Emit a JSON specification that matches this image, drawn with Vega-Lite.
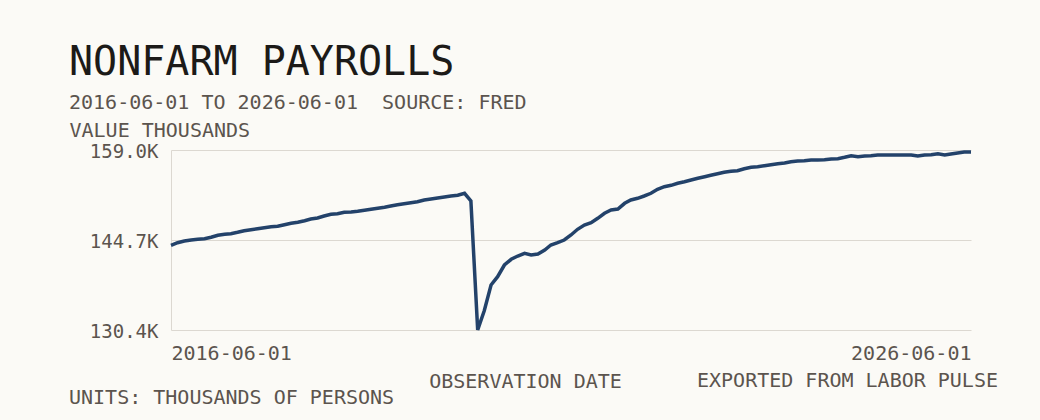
{
  "$schema": "https://vega.github.io/schema/vega-lite/v6.json",
  "width": 800,
  "height": 180,
  "autosize": {"type": "none"},
  "padding": {"left": 171, "top": 150, "right": 69, "bottom": 90},
  "background": "#fbfaf6",
  "title": {
    "text": "NONFARM PAYROLLS",
    "subtitle": "2016-06-01 TO 2026-06-01 \u00a0SOURCE: FRED",
    "anchor": "start",
    "frame": "group",
    "dx": -102,
    "offset": 7,
    "font": "DejaVu Sans Mono",
    "fontSize": 40,
    "fontWeight": "normal",
    "color": "#1c1a18",
    "subtitleFont": "DejaVu Sans Mono",
    "subtitleFontSize": 20,
    "subtitleColor": "#5b544e",
    "subtitlePadding": 10
  },
  "config": {
    "view": {"stroke": null},
    "font": "DejaVu Sans Mono"
  },
  "layer": [
    {
      "data": {"values": [
        {"date": "2016-06-01", "value": 143858},
        {"date": "2016-07-01", "value": 144271},
        {"date": "2016-08-01", "value": 144541},
        {"date": "2016-09-01", "value": 144700},
        {"date": "2016-10-01", "value": 144811},
        {"date": "2016-11-01", "value": 144907},
        {"date": "2016-12-01", "value": 145129},
        {"date": "2017-01-01", "value": 145447},
        {"date": "2017-02-01", "value": 145606},
        {"date": "2017-03-01", "value": 145701},
        {"date": "2017-04-01", "value": 145924},
        {"date": "2017-05-01", "value": 146178},
        {"date": "2017-06-01", "value": 146337},
        {"date": "2017-07-01", "value": 146496},
        {"date": "2017-08-01", "value": 146655},
        {"date": "2017-09-01", "value": 146813},
        {"date": "2017-10-01", "value": 146877},
        {"date": "2017-11-01", "value": 147131},
        {"date": "2017-12-01", "value": 147354},
        {"date": "2018-01-01", "value": 147513},
        {"date": "2018-02-01", "value": 147767},
        {"date": "2018-03-01", "value": 148037},
        {"date": "2018-04-01", "value": 148196},
        {"date": "2018-05-01", "value": 148513},
        {"date": "2018-06-01", "value": 148784},
        {"date": "2018-07-01", "value": 148879},
        {"date": "2018-08-01", "value": 149101},
        {"date": "2018-09-01", "value": 149149},
        {"date": "2018-10-01", "value": 149260},
        {"date": "2018-11-01", "value": 149419},
        {"date": "2018-12-01", "value": 149578},
        {"date": "2019-01-01", "value": 149737},
        {"date": "2019-02-01", "value": 149896},
        {"date": "2019-03-01", "value": 150102},
        {"date": "2019-04-01", "value": 150309},
        {"date": "2019-05-01", "value": 150468},
        {"date": "2019-06-01", "value": 150627},
        {"date": "2019-07-01", "value": 150786},
        {"date": "2019-08-01", "value": 151056},
        {"date": "2019-09-01", "value": 151215},
        {"date": "2019-10-01", "value": 151373},
        {"date": "2019-11-01", "value": 151532},
        {"date": "2019-12-01", "value": 151691},
        {"date": "2020-01-01", "value": 151802},
        {"date": "2020-02-01", "value": 152120},
        {"date": "2020-03-01", "value": 150897},
        {"date": "2020-04-01", "value": 130424},
        {"date": "2020-05-01", "value": 133467},
        {"date": "2020-06-01", "value": 137550},
        {"date": "2020-07-01", "value": 138869},
        {"date": "2020-08-01", "value": 140728},
        {"date": "2020-09-01", "value": 141634},
        {"date": "2020-10-01", "value": 142158},
        {"date": "2020-11-01", "value": 142587},
        {"date": "2020-12-01", "value": 142317},
        {"date": "2021-01-01", "value": 142476},
        {"date": "2021-02-01", "value": 143111},
        {"date": "2021-03-01", "value": 143906},
        {"date": "2021-04-01", "value": 144271},
        {"date": "2021-05-01", "value": 144700},
        {"date": "2021-06-01", "value": 145495},
        {"date": "2021-07-01", "value": 146400},
        {"date": "2021-08-01", "value": 147083},
        {"date": "2021-09-01", "value": 147449},
        {"date": "2021-10-01", "value": 148148},
        {"date": "2021-11-01", "value": 148943},
        {"date": "2021-12-01", "value": 149467},
        {"date": "2022-01-01", "value": 149626},
        {"date": "2022-02-01", "value": 150531},
        {"date": "2022-03-01", "value": 151056},
        {"date": "2022-04-01", "value": 151326},
        {"date": "2022-05-01", "value": 151691},
        {"date": "2022-06-01", "value": 152120},
        {"date": "2022-07-01", "value": 152756},
        {"date": "2022-08-01", "value": 153169},
        {"date": "2022-09-01", "value": 153391},
        {"date": "2022-10-01", "value": 153709},
        {"date": "2022-11-01", "value": 153963},
        {"date": "2022-12-01", "value": 154234},
        {"date": "2023-01-01", "value": 154503},
        {"date": "2023-02-01", "value": 154758},
        {"date": "2023-03-01", "value": 154980},
        {"date": "2023-04-01", "value": 155219},
        {"date": "2023-05-01", "value": 155457},
        {"date": "2023-06-01", "value": 155616},
        {"date": "2023-07-01", "value": 155711},
        {"date": "2023-08-01", "value": 156029},
        {"date": "2023-09-01", "value": 156251},
        {"date": "2023-10-01", "value": 156347},
        {"date": "2023-11-01", "value": 156506},
        {"date": "2023-12-01", "value": 156665},
        {"date": "2024-01-01", "value": 156824},
        {"date": "2024-02-01", "value": 156935},
        {"date": "2024-03-01", "value": 157141},
        {"date": "2024-04-01", "value": 157252},
        {"date": "2024-05-01", "value": 157300},
        {"date": "2024-06-01", "value": 157411},
        {"date": "2024-07-01", "value": 157430},
        {"date": "2024-08-01", "value": 157440},
        {"date": "2024-09-01", "value": 157570},
        {"date": "2024-10-01", "value": 157618},
        {"date": "2024-11-01", "value": 157840},
        {"date": "2024-12-01", "value": 158095},
        {"date": "2025-01-01", "value": 157936},
        {"date": "2025-02-01", "value": 158047},
        {"date": "2025-03-01", "value": 158095},
        {"date": "2025-04-01", "value": 158206},
        {"date": "2025-05-01", "value": 158210},
        {"date": "2025-06-01", "value": 158200},
        {"date": "2025-07-01", "value": 158215},
        {"date": "2025-08-01", "value": 158205},
        {"date": "2025-09-01", "value": 158210},
        {"date": "2025-10-01", "value": 158047},
        {"date": "2025-11-01", "value": 158206},
        {"date": "2025-12-01", "value": 158253},
        {"date": "2026-01-01", "value": 158412},
        {"date": "2026-02-01", "value": 158206},
        {"date": "2026-03-01", "value": 158365},
        {"date": "2026-04-01", "value": 158524},
        {"date": "2026-05-01", "value": 158682},
        {"date": "2026-06-01", "value": 158700}
      ]},
      "mark": {"type": "line", "color": "#23426a", "strokeWidth": 3.5},
      "encoding": {
        "x": {
          "field": "date",
          "type": "temporal",
          "scale": {
            "type": "utc",
            "domain": [
              {"year": 2016, "month": 6, "date": 1, "utc": true},
              {"year": 2026, "month": 6, "date": 1, "utc": true}
            ]
          },
          "axis": {
            "title": "OBSERVATION DATE",
            "values": [
              {"year": 2016, "month": 6, "date": 1, "utc": true},
              {"year": 2026, "month": 6, "date": 1, "utc": true}
            ],
            "labelExpr": "utcFormat(datum.value, '%Y-%m-%d')",
            "labelFlush": true,
            "labelFontSize": 20,
            "labelColor": "#5b544e",
            "labelPadding": 13,
            "ticks": false,
            "domain": false,
            "grid": false,
            "titleFontSize": 20,
            "titleFontWeight": "normal",
            "titleColor": "#5b544e",
            "titleAlign": "center",
            "titleBaseline": "alphabetic",
            "titleX": 354,
            "titleY": 57
          }
        },
        "y": {
          "field": "value",
          "type": "quantitative",
          "scale": {"domain": [130400, 159000], "nice": false, "zero": false},
          "axis": {
            "title": "VALUE THOUSANDS",
            "values": [130400, 144700, 159000],
            "labelExpr": "format(datum.value / 1000, '.1f') + 'K'",
            "labelFontSize": 19,
            "labelColor": "#5b544e",
            "labelPadding": 13,
            "labelOffset": 1,
            "ticks": false,
            "domain": true,
            "domainColor": "#dcd8d1",
            "gridColor": "#dcd8d1",
            "titleFontSize": 20,
            "titleFontWeight": "normal",
            "titleColor": "#5b544e",
            "titleAngle": 0,
            "titleAlign": "left",
            "titleBaseline": "alphabetic",
            "titleX": -102,
            "titleY": -14
          }
        }
      }
    },
    {
      "data": {"values": [{"label": "EXPORTED FROM LABOR PULSE"}]},
      "mark": {
        "type": "text",
        "x": "width",
        "y": "height",
        "dx": 27,
        "dy": 57,
        "align": "right",
        "baseline": "alphabetic",
        "fontSize": 20,
        "color": "#5b544e"
      },
      "encoding": {"text": {"field": "label"}}
    },
    {
      "data": {"values": [{"label": "UNITS: THOUSANDS OF PERSONS"}]},
      "mark": {
        "type": "text",
        "x": 0,
        "y": "height",
        "dx": -102,
        "dy": 74,
        "align": "left",
        "baseline": "alphabetic",
        "fontSize": 20,
        "color": "#5b544e"
      },
      "encoding": {"text": {"field": "label"}}
    }
  ]
}
